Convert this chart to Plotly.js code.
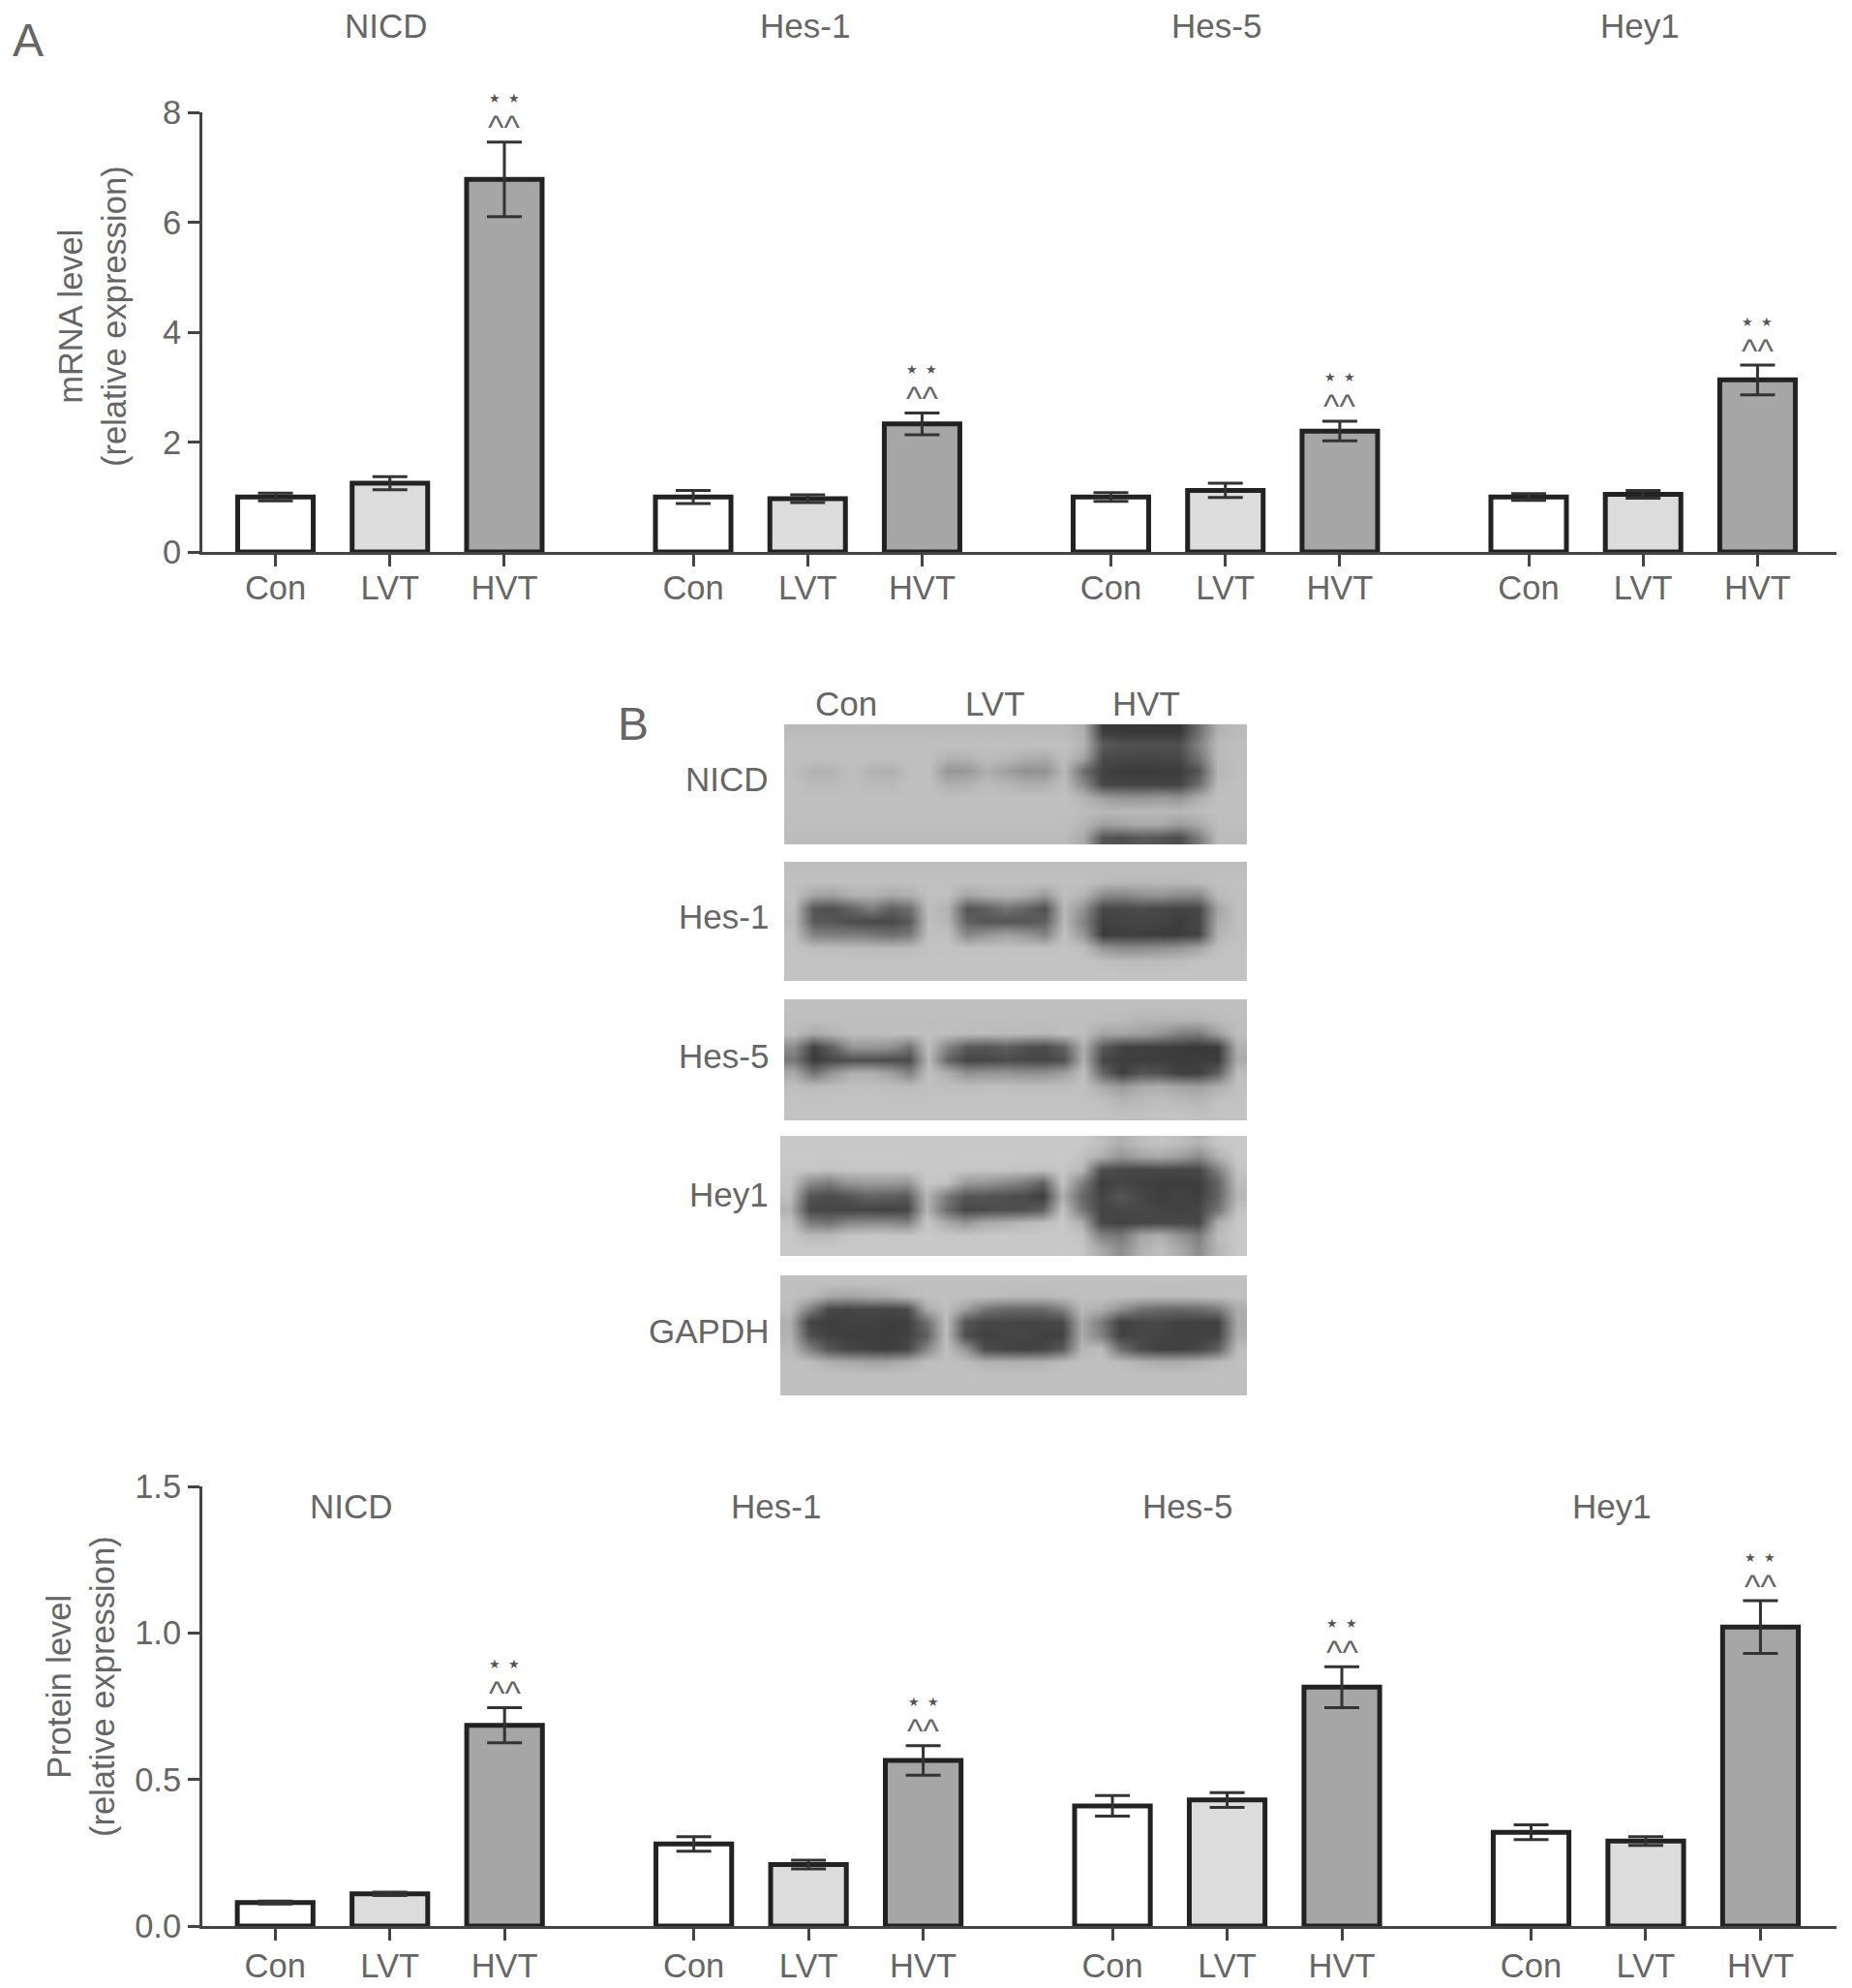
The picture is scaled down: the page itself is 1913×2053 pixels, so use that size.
<!DOCTYPE html>
<html>
<head>
<meta charset="utf-8">
<script src="https://cdn.plot.ly/plotly-3.0.1.min.js"></script>
<style>
  html, body { margin: 0; padding: 0; background: #fff; }
</style>
</head>
<body>
<div id="chart" style="width:1913px;height:2053px"></div>
<script>
const genes = ["NICD", "Hes-1", "Hes-5", "Hey1"];
const groups = ["Con", "LVT", "HVT"];

const mrnaMean = [[1.0, 1.25, 6.78], [1.0, 0.97, 2.33], [1.0, 1.12, 2.2], [1.0, 1.05, 3.13]];
const mrnaErr = [[0.07, 0.12, 0.68], [0.12, 0.07, 0.2], [0.08, 0.13, 0.18], [0.06, 0.07, 0.27]];
const proteinMean = [[0.08, 0.11, 0.685], [0.28, 0.21, 0.565], [0.41, 0.43, 0.815], [0.32, 0.29, 1.02]];
const proteinErr = [[0.005, 0.006, 0.06], [0.025, 0.015, 0.05], [0.035, 0.025, 0.07], [0.025, 0.015, 0.09]];

const blotLabels = ["NICD", "Hes-1", "Hes-5", "Hey1", "GAPDH"];

// western blots, grey levels (24 columns x 9 rows)
const blotNICD = [
  [186,186,186,186,186,186,186,186,186,186,186,186,186,186,186,175,60,55,55,55,55,110,178,186],
  [192,192,192,192,192,192,192,192,192,192,192,192,192,192,192,180,90,82,80,80,80,130,186,190],
  [192,192,192,192,192,192,192,192,178,180,188,185,175,172,190,165,75,72,70,70,72,115,186,190],
  [190,178,180,190,178,176,190,192,150,152,175,160,145,145,185,110,65,60,58,60,60,85,182,190],
  [192,185,186,190,186,185,192,192,175,178,188,182,175,175,190,140,70,70,68,68,68,110,188,192],
  [192,192,192,192,192,192,192,192,192,192,192,192,192,192,192,182,160,150,150,155,150,175,192,192],
  [192,192,192,192,192,192,192,192,192,192,192,192,192,192,192,188,185,185,185,185,185,188,192,192],
  [190,190,190,190,190,190,190,190,190,190,190,190,190,190,190,182,160,165,170,170,155,170,190,190],
  [188,188,188,188,188,188,188,188,188,188,188,188,188,188,188,170,85,80,90,85,75,125,188,188]
];
const blotHes1 = [
  [190,190,190,190,190,190,190,190,190,190,190,190,190,190,190,190,190,190,190,190,190,190,190,190],
  [192,192,192,192,192,192,192,192,192,192,192,192,192,192,192,192,188,186,186,186,186,188,192,192],
  [192,165,160,178,178,170,175,192,192,165,175,180,175,155,190,180,140,135,145,150,140,140,188,192],
  [190,85,80,100,125,95,110,190,178,85,95,115,100,80,185,145,70,72,75,72,68,70,165,192],
  [186,90,85,75,72,72,90,190,182,95,85,85,85,95,185,130,65,68,70,68,62,70,172,192],
  [192,130,125,125,120,110,120,192,192,135,150,160,150,130,192,150,60,62,62,60,60,68,180,192],
  [194,190,190,188,186,186,188,194,194,194,194,194,194,194,194,190,150,140,140,145,150,165,192,194],
  [195,195,195,195,195,195,195,195,195,195,195,195,195,195,195,195,192,188,188,188,190,195,195,195],
  [195,195,195,195,195,195,195,195,195,195,195,195,195,195,195,195,195,195,195,195,195,195,195,195]
];
const blotHes5 = [
  [192,192,192,192,192,192,192,192,192,192,192,192,192,192,192,192,192,192,192,192,192,192,192,192],
  [190,190,190,190,190,190,190,190,190,190,190,190,190,190,190,190,188,186,180,180,180,180,188,190],
  [188,170,180,190,190,190,190,192,190,188,188,188,186,184,190,190,165,165,160,150,130,125,160,190],
  [140,65,100,150,150,145,115,190,130,90,85,95,80,75,100,175,90,65,65,62,60,55,60,175],
  [120,58,72,80,80,75,75,185,100,68,70,75,72,70,80,175,70,62,62,62,60,62,60,170],
  [170,115,150,175,175,160,130,192,175,145,150,150,145,145,160,190,100,62,85,80,65,62,95,190],
  [190,188,190,192,192,190,188,192,190,190,192,192,190,190,190,192,170,155,170,175,165,160,175,192],
  [194,194,194,194,194,194,194,194,194,194,194,194,194,194,194,194,190,180,185,190,185,180,192,194],
  [195,195,195,195,195,195,195,195,195,195,195,195,195,195,195,195,195,192,192,195,195,192,195,195]
];
const blotHey1 = [
  [200,200,200,200,200,200,200,200,200,200,200,200,200,200,200,200,192,175,190,195,190,178,198,200],
  [200,200,200,200,200,200,200,200,200,200,200,200,200,200,200,195,175,150,165,170,160,140,178,200],
  [198,198,196,198,198,198,198,200,200,198,198,198,196,194,198,185,80,72,70,72,70,72,130,195],
  [195,140,125,150,155,155,150,198,195,155,150,140,125,100,195,130,62,70,65,62,62,62,100,188],
  [190,85,75,85,100,95,90,180,125,85,85,80,75,60,175,105,68,85,70,62,68,62,100,182],
  [178,72,70,68,68,65,70,180,110,70,75,78,80,95,195,120,68,72,72,68,65,70,115,195],
  [195,125,115,135,140,140,130,198,170,150,170,175,185,190,200,175,72,65,70,72,72,70,175,200],
  [200,185,185,198,198,198,198,200,198,198,200,200,200,200,200,195,130,120,165,175,150,125,188,200],
  [200,200,200,200,200,200,200,200,200,200,200,200,200,200,200,198,170,140,175,190,170,140,182,200]
];
const blotGAPDH = [
  [192,192,192,192,192,192,192,192,192,192,192,192,192,192,192,192,192,192,192,192,192,192,192,192],
  [192,188,170,165,170,175,185,192,192,192,190,188,186,186,190,192,192,192,190,188,188,190,192,192],
  [188,130,72,68,72,70,75,170,192,160,120,105,105,105,130,185,175,145,115,108,105,110,125,172],
  [175,68,62,65,65,62,62,110,190,85,70,72,68,70,72,170,125,65,70,72,65,65,65,170],
  [178,80,65,62,62,62,65,95,190,78,65,68,70,65,65,170,130,65,72,68,65,65,68,172],
  [186,130,85,70,65,62,70,135,192,150,75,68,65,68,90,182,190,110,75,65,65,70,95,190],
  [192,190,175,170,165,165,175,190,192,190,178,176,176,178,188,192,192,188,178,172,172,178,188,192],
  [192,192,192,192,192,192,192,192,192,192,192,192,192,192,192,192,192,192,192,192,192,192,192,192],
  [192,192,192,192,192,192,192,192,192,192,192,192,192,192,192,192,192,192,192,192,192,192,192,192]
];

const W = 1913, H = 2053;
const INK = "#666666";
const AXIS = "#444444";
const FONT = '"Liberation Sans", Arial, sans-serif';
const FILLS = ["#ffffff", "#dcdcdc", "#a6a6a6"];
const GROUP_STEP = 3.65;   // bar slots between the Con bars of neighbouring genes

const xPos = (g, b) => g * GROUP_STEP + b;

function barTrace(mean, err, xa, ya) {
  const x = [], y = [], e = [], colors = [];
  mean.forEach((row, g) => row.forEach((v, b) => {
    x.push(xPos(g, b));
    y.push(v);
    e.push(err[g][b]);
    colors.push(FILLS[b]);
  }));
  return {
    type: "bar", x, y, xaxis: xa, yaxis: ya, width: 0.66,
    marker: { color: colors, line: { color: "#222222", width: 5 } },
    error_y: { type: "data", array: e, visible: true, color: "#333333", thickness: 3, width: 18 },
    hoverinfo: "skip",
  };
}

// significance marks sit above the HVT error bar
function marks(mean, err, xa, ya) {
  const out = [];
  mean.forEach((row, g) => {
    const top = row[2] + err[g][2];
    out.push({ xref: xa, yref: ya, x: xPos(g, 2), y: top, yshift: 45, text: "★\u00a0\u00a0★", showarrow: false,
      font: { family: '"DejaVu Sans"', size: 13, color: "#555555" } });
    out.push({ xref: xa, yref: ya, x: xPos(g, 2), y: top, yshift: 15, text: "^^", showarrow: false,
      font: { family: FONT, size: 35, color: INK } });
  });
  return out;
}

// page-pixel text on the overlay axes
function label(text, x, y, size = 35, xanchor = "center", textangle = 0) {
  return { xref: "x3", yref: "y3", x, y, text, showarrow: false, xanchor, yanchor: "middle", textangle,
    font: { family: FONT, size, color: INK } };
}

function blotTrace(z, left, top, right, bottom) {
  const dx = (right - left) / z[0].length;
  const dy = (bottom - top) / z.length;
  return {
    type: "heatmap", z, xaxis: "x3", yaxis: "y3",
    x0: left + dx / 2, dx, y0: top + dy / 2, dy,
    zmin: 0, zmax: 255, zsmooth: "best", showscale: false, hoverinfo: "skip",
    colorscale: [[0, "#000000"], [1, "#ffffff"]],
  };
}

const tickvals = [], ticktext = [];
genes.forEach((_, g) => groups.forEach((name, b) => {
  tickvals.push(xPos(g, b));
  ticktext.push(name);
}));

const xAxis = (anchor, domain, range, standoff) => ({
  domain, anchor, range, tickmode: "array", tickvals, ticktext, ticklabelstandoff: standoff,
  showgrid: false, zeroline: false, showline: true, linecolor: AXIS, linewidth: 3,
  ticks: "outside", ticklen: 12, tickwidth: 3, tickcolor: AXIS,
  tickfont: { family: FONT, size: 34.5, color: INK },
});
const yAxis = (anchor, domain, range, vals, fmt) => ({
  domain, anchor, range, tickmode: "array", tickvals: vals, tickformat: fmt,
  showgrid: false, zeroline: false, showline: true, linecolor: AXIS, linewidth: 3,
  ticks: "outside", ticklen: 12, tickwidth: 3, tickcolor: AXIS,
  tickfont: { family: FONT, size: 34.5, color: INK },
});

const xDomain = [209 / W, 1897 / W];

const traces = [
  barTrace(mrnaMean, mrnaErr, "x", "y"),
  barTrace(proteinMean, proteinErr, "x2", "y2"),
  blotTrace(blotNICD, 810, 748, 1288, 872),
  blotTrace(blotHes1, 810, 890, 1288, 1013),
  blotTrace(blotHes5, 810, 1032, 1288, 1157),
  blotTrace(blotHey1, 806, 1173, 1288, 1297),
  blotTrace(blotGAPDH, 806, 1317, 1288, 1441),
];

const topTitleX = [399, 831, 1256, 1694];
const bottomTitleX = [363, 801, 1226, 1665];
const blotLabelY = [804, 946, 1090, 1233, 1374];
const blotGroupX = [874, 1028, 1184];

const annotations = [
  ...marks(mrnaMean, mrnaErr, "x", "y"),
  ...marks(proteinMean, proteinErr, "x2", "y2"),
  label("A", 29, 41, 48),
  label("B", 654, 747, 48),
  ...genes.map((g, i) => label(g, topTitleX[i], 26)),
  ...genes.map((g, i) => label(g, bottomTitleX[i], 1555)),
  ...blotLabels.map((g, i) => label(g, 796, blotLabelY[i], 35, "right")),
  ...groups.map((g, i) => label(g, blotGroupX[i], 726)),
  label("mRNA level<br>(relative expression)", 95, 327, 34.5, "center", -90),
  label("Protein level<br>(relative expression)", 83, 1742, 34.5, "center", -90),
];

const layout = {
  width: W, height: H,
  margin: { l: 0, r: 0, t: 0, b: 0 },
  paper_bgcolor: "#ffffff", plot_bgcolor: "rgba(0,0,0,0)",
  showlegend: false, bargap: 0,
  xaxis: xAxis("y", xDomain, [-0.639, 13.64], -7),
  yaxis: yAxis("x", [1 - 570 / H, 1 - 116 / H], [0, 8], [0, 2, 4, 6, 8], "d"),
  xaxis2: xAxis("y2", xDomain, [-0.635, 13.613], -3),
  yaxis2: yAxis("x2", [1 - 1989 / H, 1 - 1535 / H], [0, 1.5], [0, 0.5, 1, 1.5], ".1f"),
  xaxis3: { domain: [0, 1], range: [0, W], anchor: "y3", visible: false },
  yaxis3: { domain: [0, 1], range: [H, 0], anchor: "x3", visible: false },
  annotations,
};

Plotly.newPlot("chart", traces, layout, { displayModeBar: false, staticPlot: true });
</script>
</body>
</html>
